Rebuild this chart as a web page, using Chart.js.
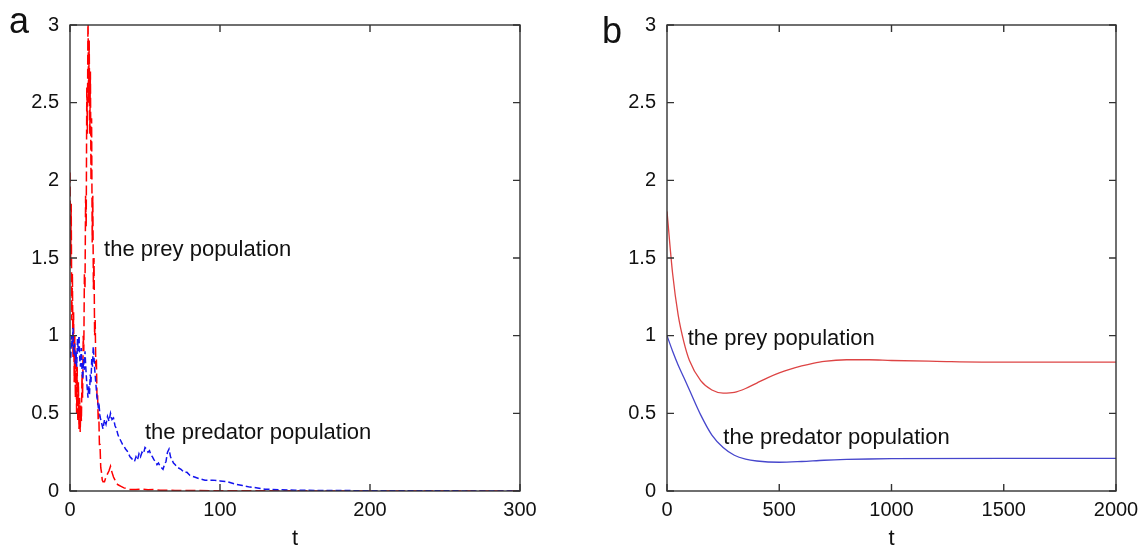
<!DOCTYPE html>
<html>
<head>
<meta charset="utf-8">
<script src="https://cdn.jsdelivr.net/npm/chart.js@4.4.1/dist/chart.umd.min.js"></script>
<style>
  html, body { margin: 0; padding: 0; background: #fff; overflow: hidden; }
  #wrap { position: relative; width: 1141px; height: 551px; overflow: hidden; }
  #chartA { position: absolute; left: 0; top: 0; }
  #chartB { position: absolute; left: 575px; top: 0; }
</style>
</head>
<body>
<div id="wrap">
  <canvas id="chartA" width="560" height="551"></canvas>
  <canvas id="chartB" width="571" height="551"></canvas>
</div>
<script>
// ---- panel a : stochastic model ----
var tPreyA = [0,0.4,0.8,1.2,1.6,2.0,2.4,2.8,3.2,3.6,4.0,4.4,4.8,5.2,5.6,6.0,6.4,6.8,7.2,7.6,
  8.0,8.4,8.8,9.2,9.6,10.0,10.4,10.8,11.2,11.6,12.0,12.4,12.8,13.2,13.6,14.0,14.4,14.8,15.2,15.6,
  16.0,16.4,16.8,17.2,17.6,18.0,18.4,18.8,19.2,19.6,20.0,20.5,21,21.5,22,23,24,25,26,27,
  27.5,28,29,30,31,32,34,36,38,40,44,48,52,56,60,70,80,100,150,200,300];
var preyA = [2.05,1.45,1.85,1.1,1.4,0.85,1.15,0.7,1.0,0.6,0.9,0.5,0.8,0.45,0.7,0.4,0.6,0.38,0.55,0.45,
  0.75,0.6,1.0,0.9,1.4,1.3,1.9,1.7,2.6,2.3,3.1,2.5,2.9,2.3,2.7,2.0,2.4,1.6,1.9,1.3,
  1.5,1.0,1.1,0.8,0.85,0.6,0.62,0.45,0.5,0.3,0.3,0.15,0.12,0.07,0.06,0.06,0.09,0.11,0.13,0.16,
  0.14,0.12,0.09,0.07,0.05,0.04,0.03,0.02,0.015,0.01,0.01,0.012,0.008,0.01,0.005,0.004,0.003,0.002,0.001,0,0];

var tPredA = [0,0.5,1,1.5,2,2.5,3,3.5,4,4.5,5,5.5,6,6.5,7,7.5,8,8.5,9,9.5,
  10,10.5,11,11.5,12,12.5,13,13.5,14,14.5,15,15.5,16,16.5,17,17.5,18,18.5,19,19.5,20,
  21,22,23,24,25,26,27,28,29,30,31,32,33,34,35,36,37,38,39,40,
  41,42,43,44,45,46,47,48,49,50,51,52,53,54,55,56,57,58,59,60,61,62,63,64,65,66,67,68,69,70,
  72,74,76,78,80,83,86,90,95,100,105,110,115,120,125,130,140,150,170,200,250,300];
var predA = [0.9,0.85,1.0,0.92,1.05,0.88,0.95,0.82,0.9,0.8,0.98,0.9,1.0,0.85,0.8,0.92,0.78,0.72,0.85,0.78,
  0.9,0.8,0.72,0.66,0.6,0.68,0.62,0.75,0.7,0.85,0.8,0.93,0.86,0.78,0.72,0.66,0.6,0.58,0.52,0.54,0.48,
  0.44,0.4,0.46,0.43,0.48,0.45,0.5,0.46,0.47,0.42,0.4,0.36,0.34,0.32,0.3,0.29,0.27,0.26,0.24,0.22,
  0.21,0.2,0.19,0.22,0.2,0.24,0.22,0.25,0.24,0.28,0.27,0.25,0.26,0.23,0.22,0.2,0.19,0.17,0.18,0.16,
  0.15,0.14,0.17,0.19,0.25,0.27,0.22,0.2,0.18,0.17,
  0.15,0.14,0.12,0.12,0.1,0.09,0.08,0.07,0.07,0.065,0.06,0.045,0.035,0.025,0.02,0.012,0.008,0.005,0.003,0.002,0.001,0];

// ---- panel b : deterministic model ----
var tPreyB = [0,25,50,75,100,150,200,250,300,350,400,450,500,550,600,650,700,800,900,1000,1200,1500,2000];
var preyB = [1.80,1.40,1.13,0.96,0.84,0.71,0.65,0.63,0.635,0.66,0.695,0.73,0.76,0.785,0.805,0.822,0.835,0.845,0.845,0.84,0.835,0.83,0.83];
var tPredB = [0,25,50,75,100,150,200,250,300,350,400,500,600,700,800,900,1000,1500,2000];
var predB = [1.0,0.9,0.81,0.73,0.65,0.49,0.36,0.28,0.23,0.205,0.193,0.185,0.19,0.198,0.203,0.206,0.208,0.21,0.21];

// tick labels
var yTicks = [0, 0.5, 1, 1.5, 2, 2.5, 3];
var xTicksA = [0, 100, 200, 300];
var xTicksB = [0, 500, 1000, 1500, 2000];

function pts(ts, vs) { return ts.map(function (t, i) { return { x: t, y: vs[i] }; }); }

var FONT = "'Liberation Sans', Arial, Helvetica, sans-serif";

// gnuplot style frame, inward ticks, notes, letter and "t"
var framePlugin = {
  id: 'frame',
  afterDraw: function (chart, args, opts) {
    var c = chart.ctx, a = chart.chartArea;
    var xs = chart.scales.x, ys = chart.scales.y;
    c.save();
    c.strokeStyle = '#333';
    c.lineWidth = 1.4;
    c.strokeRect(a.left, a.top, a.right - a.left, a.bottom - a.top);
    var tl = 7;
    c.beginPath();
    xs.ticks.forEach(function (tk) {
      var px = xs.getPixelForValue(tk.value);
      c.moveTo(px, a.bottom); c.lineTo(px, a.bottom - tl);
      c.moveTo(px, a.top); c.lineTo(px, a.top + tl);
    });
    ys.ticks.forEach(function (tk) {
      var py = ys.getPixelForValue(tk.value);
      c.moveTo(a.left, py); c.lineTo(a.left + tl, py);
      c.moveTo(a.right, py); c.lineTo(a.right - tl, py);
    });
    c.stroke();

    c.fillStyle = '#111';
    c.textBaseline = 'alphabetic';
    c.textAlign = 'left';
    c.font = '22px ' + FONT;
    opts.notes.forEach(function (n) {
      c.fillText(n.text, xs.getPixelForValue(n.x), ys.getPixelForValue(n.y));
    });
    c.textAlign = 'center';
    c.fillText('t', (a.left + a.right) / 2, 545);
    c.textAlign = 'left';
    c.font = '36px ' + FONT;
    c.fillText(opts.letter, opts.letterX, opts.letterY);
    c.restore();
  }
};

function plain(v) { return String(v); }

function makeChart(id, datasets, xMax, xTicks, yWidth, padRight, plug) {
  return new Chart(document.getElementById(id), {
    type: 'line',
    data: { datasets: datasets },
    options: {
      responsive: false,
      animation: false,
      events: [],
      layout: { autoPadding: false, padding: { top: 25, right: padRight, bottom: 0, left: 0 } },
      plugins: { legend: { display: false }, tooltip: { enabled: false }, frame: plug },
      elements: { point: { radius: 0 } },
      scales: {
        x: {
          type: 'linear', min: 0, max: xMax,
          afterBuildTicks: function (s) { s.ticks = xTicks.map(function (v) { return { value: v }; }); },
          afterFit: function (s) { s.height = 60; },
          grid: { display: false, drawTicks: false },
          border: { display: false },
          ticks: { font: { family: FONT, size: 20 }, color: '#111', padding: 7, maxRotation: 0, callback: plain }
        },
        y: {
          min: 0, max: 3,
          afterBuildTicks: function (s) { s.ticks = yTicks.map(function (v) { return { value: v }; }); },
          afterFit: function (s) { s.width = yWidth; },
          grid: { display: false, drawTicks: false },
          border: { display: false },
          ticks: { font: { family: FONT, size: 20 }, color: '#111', padding: 11, callback: plain }
        }
      }
    },
    plugins: [framePlugin]
  });
}

makeChart('chartA', [
  { data: pts(tPredA, predA), borderColor: '#1414ee', borderWidth: 1.5, borderDash: [6, 3], tension: 0 },
  { data: pts(tPreyA, preyA), borderColor: '#ff0000', borderWidth: 1.5, borderDash: [10, 4], tension: 0 }
], 300, xTicksA, 70, 40, {
  notes: [
    { text: 'the prey population', x: 22.7, y: 1.51 },
    { text: 'the predator population', x: 50, y: 0.335 }
  ],
  letter: 'a', letterX: 9, letterY: 33
});

makeChart('chartB', [
  { data: pts(tPreyB, preyB), borderColor: '#dd4444', borderWidth: 1.3, cubicInterpolationMode: 'monotone' },
  { data: pts(tPredB, predB), borderColor: '#4646cc', borderWidth: 1.3, cubicInterpolationMode: 'monotone' }
], 2000, xTicksB, 92, 30, {
  notes: [
    { text: 'the prey population', x: 92, y: 0.94 },
    { text: 'the predator population', x: 251, y: 0.30 }
  ],
  letter: 'b', letterX: 27, letterY: 43
});
</script>
</body>
</html>
